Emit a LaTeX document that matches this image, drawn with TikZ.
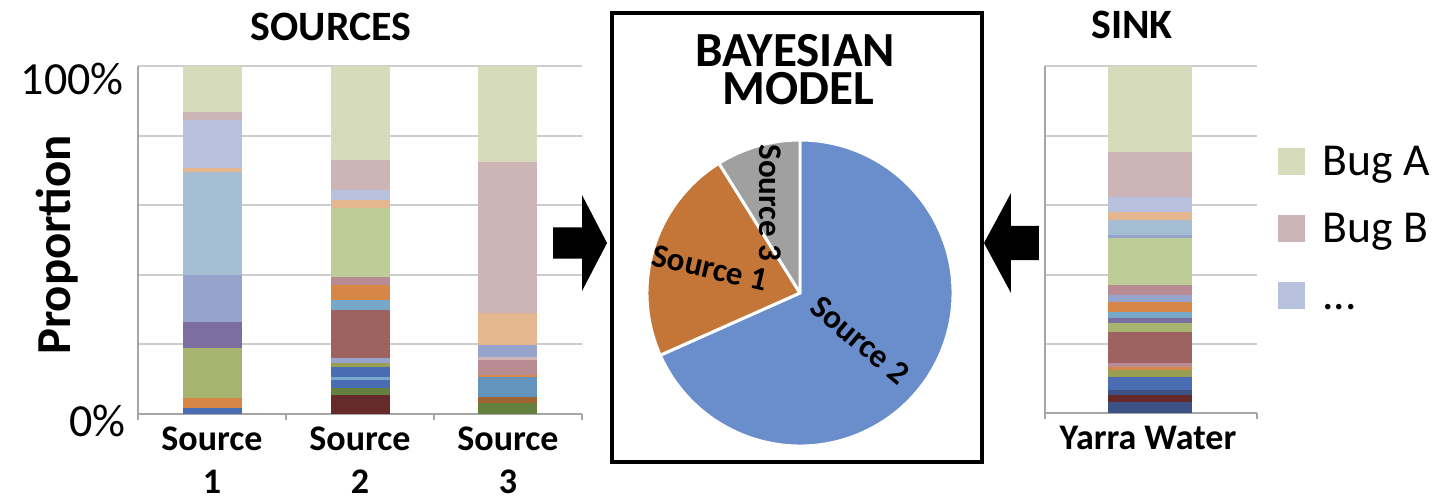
\documentclass[tikz,border=0pt]{standalone}
\usepackage{fontspec}
\setmainfont{Carlito}
\usetikzlibrary{calc}
% bar and pie colours
\definecolor{bugA}{RGB}{213,219,187}
\definecolor{bugB}{RGB}{205,180,183}
\definecolor{bugC}{RGB}{184,193,221}
\definecolor{peach}{RGB}{229,183,145}
\definecolor{steel}{RGB}{166,190,212}
\definecolor{peri}{RGB}{150,163,204}
\definecolor{purp}{RGB}{124,110,158}
\definecolor{olive}{RGB}{166,180,112}
\definecolor{orng}{RGB}{214,135,72}
\definecolor{blu}{RGB}{74,108,178}
\definecolor{grn}{RGB}{190,204,152}
\definecolor{mauve}{RGB}{184,140,146}
\definecolor{sky}{RGB}{118,168,202}
\definecolor{sblue}{RGB}{100,148,190}
\definecolor{brick}{RGB}{158,98,96}
\definecolor{mossy}{RGB}{150,160,80}
\definecolor{leaf}{RGB}{100,128,62}
\definecolor{rust}{RGB}{160,100,52}
\definecolor{maroon}{RGB}{102,42,42}
\definecolor{navy}{RGB}{60,82,132}
\definecolor{pieblue}{RGB}{106,141,204}
\definecolor{pieorng}{RGB}{196,118,56}
\definecolor{piegray}{RGB}{160,160,160}
\definecolor{gridc}{RGB}{205,205,205}
\tikzset{
  gline/.style    = {draw=gridc, line width=1.1pt},
  axline/.style   = {draw=black!35, line width=1.1pt},
  ttl/.style      = {font=\bfseries\fontsize{23.8}{25}\selectfont, inner sep=0pt},
  mtitle/.style   = {font=\bfseries\fontsize{27.9}{30}\selectfont, inner sep=0pt},
  ticklbl/.style  = {font=\fontsize{26.2}{28}\selectfont, inner sep=0pt},
  ylbl/.style     = {font=\bfseries\fontsize{27.8}{29}\selectfont, inner sep=0pt},
  catlbl/.style   = {font=\bfseries\fontsize{20.5}{24.5}\selectfont, align=center,
                     inner sep=0pt},
  plbl/.style     = {font=\bfseries\fontsize{18.8}{20}\selectfont, inner sep=0pt},
  slice/.style    = {draw=white, line width=1.7pt, line join=round},
  modelbox/.style = {draw, line width=2.3pt, minimum width=7.4cm,
                     minimum height=8.98cm, inner sep=0pt},
  blockarr/.style = {fill=black},
  legsq/.style    = {minimum size=0.54cm, inner sep=0pt},
  legtxt/.style   = {font=\fontsize{26}{28}\selectfont, inner sep=0pt,
                     anchor=base west},
}
\begin{document}
\begin{tikzpicture}[x=0.02cm, y=0.02cm]
  \useasboundingbox (0,0) rectangle (1445,-500);
  % sources chart
  \foreach \g in {0,...,4}
    \draw[gline] (138,{-66-69.6*\g}) -- (582,{-66-69.6*\g});
  \draw[axline] (138,-66) -- (138,-420);
  \draw[axline] (138,-414) -- (582,-414);
  \foreach \t in {286,434,582}
    \draw[axline] (\t,-414) -- (\t,-420);
  \foreach \a/\b/\c in {66/112/bugA, 112/120/bugB, 120/168/bugC, 168/172/peach,
      172/275/steel, 275/322/peri, 322/348/purp, 348/398/olive, 398/408/orng,
      408/414/blu}
    \fill[\c] (183,-\a) rectangle (242,-\b);
  \foreach \a/\b/\c in {66/160/bugA, 160/190/bugB, 190/200/bugC, 200/208/peach,
      208/277/grn, 277/285/mauve, 285/300/orng, 300/310/sky, 310/358/brick,
      358/363/peri, 363/367/mossy, 367/377/blu, 377/380/sky, 380/388/blu,
      388/395/leaf, 395/414/maroon}
    \fill[\c] (331,-\a) rectangle (390,-\b);
  \foreach \a/\b/\c in {66/162/bugA, 162/313/bugB, 313/345/peach, 345/357/peri,
      357/360/bugB, 360/375/mauve, 375/377/orng, 377/397/sblue, 397/403/rust,
      403/414/leaf}
    \fill[\c] (478,-\a) rectangle (537,-\b);
  \node[ttl] (srcttl) at (331,-27) {SOURCES};
  \node[ticklbl, anchor=east] (t100) at (124,-79) {100\%};
  \node[ticklbl, anchor=east] (t0) at (126,-421) {0\%};
  \node[ylbl, rotate=90] (ylab) at (57,-245) {Proportion};
  \node[catlbl] (cat1) at (212,-460) {Source\\1};
  \node[catlbl] (cat2) at (360,-460) {Source\\2};
  \node[catlbl] (cat3) at (508,-460) {Source\\3};

  % model box with pie
  \node[modelbox] (model) at (797,-237.5) {};
  \node[mtitle] (bayes) at (795,-51) {BAYESIAN};
  \node[mtitle] (modl) at (798,-89) {MODEL};
  \coordinate (pc) at (800,-293);
  \filldraw[slice, fill=pieblue] (pc) -- ++(204:153)
    arc[start angle=204, end angle=450, radius=153] -- cycle;
  \filldraw[slice, fill=pieorng] (pc) -- ++(122:153)
    arc[start angle=122, end angle=204, radius=153] -- cycle;
  \filldraw[slice, fill=piegray] (pc) -- ++(90:153)
    arc[start angle=90, end angle=122, radius=153] -- cycle;
  \node[plbl, rotate=-90] (s3lbl) at (770,-203) {Source 3};
  \node[plbl, rotate=-13] (s1lbl) at (710,-268) {Source 1};
  \node[plbl, rotate=-40] (s2lbl) at (860,-340) {Source 2};

  % block arrows into the model
  \fill[blockarr] ([shift={(-3,-5.5)}]model.west) -- ++(-25,48) -- ++(0,-32.5)
    -- ++(-29,0) -- ++(0,-31) -- ++(29,0) -- ++(0,-32.5) -- cycle;
  \fill[blockarr] ([shift={(0,-5.5)}]model.east) -- ++(27,50) -- ++(0,-33)
    -- ++(28,0) -- ++(0,-34) -- ++(-28,0) -- ++(0,-33) -- cycle;

  % sink chart
  \foreach \g in {0,...,4}
    \draw[gline] (1045,{-66-69.6*\g}) -- (1257,{-66-69.6*\g});
  \draw[axline] (1045,-66) -- (1045,-419);
  \draw[axline] (1045,-413) -- (1257,-413);
  \draw[axline] (1257,-413) -- (1257,-419);
  \foreach \a/\b/\c in {66/152/bugA, 152/197/bugB, 197/212/bugC, 212/220/peach,
      220/235/steel, 235/238/peri, 238/285/grn, 285/295/mauve, 295/302/peri,
      302/312/orng, 312/318/sky, 318/323/purp, 323/332/olive, 332/363/brick,
      363/367/mauve, 367/370/orng, 370/377/mossy, 377/390/blu, 390/395/navy,
      395/402/maroon, 402/413/navy}
    \fill[\c] (1108,-\a) rectangle (1192,-\b);
  \node[ttl] (sinkttl) at (1132,-25) {SINK};
  \node[catlbl] (yarra) at (1148,-438) {Yarra Water};

  % legend
  \node[legsq, fill=bugA] (sqA) at (1291.5,-161.5) {};
  \node[legsq, fill=bugB] (sqB) at (1291.5,-228.5) {};
  \node[legsq, fill=bugC] (sqC) at (1291.5,-295.5) {};
  \node[legtxt] (lgA) at (1322,-175) {Bug A};
  \node[legtxt] (lgB) at (1322,-242) {Bug B};
  \node[legtxt] (lgC) at (1322,-309) {...};
\end{tikzpicture}
\end{document}
